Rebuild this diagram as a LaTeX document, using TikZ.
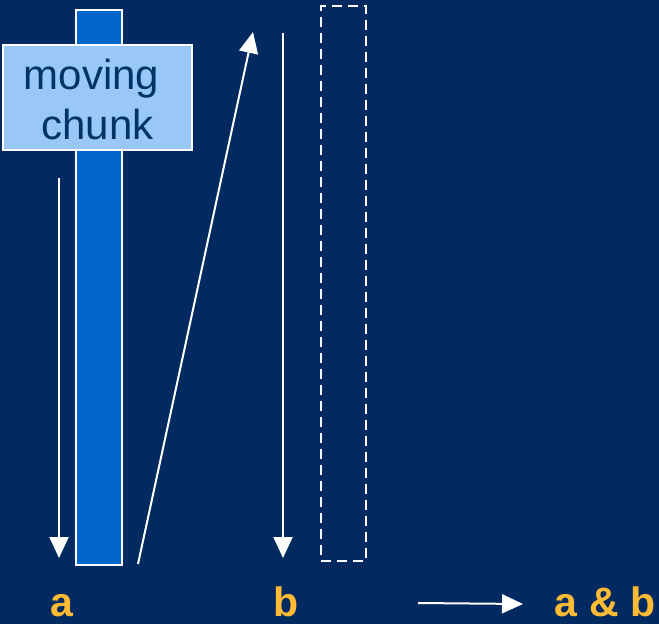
\documentclass[tikz,border=0pt]{standalone}
\usepackage{fontspec}
\setmainfont{Liberation Sans}
\usetikzlibrary{arrows.meta}
\definecolor{bgnavy}{HTML}{022A60}
\definecolor{barblue}{HTML}{0066CC}
\definecolor{lightblue}{HTML}{99C8F8}
\definecolor{darktext}{HTML}{003366}
\definecolor{labelorange}{HTML}{FFBB33}
\tikzset{
  whitearrow/.style={draw=white, line width=2pt, arrows={-Triangle[length=21pt, width=19pt]}},
  lbl/.style={text=labelorange, font=\fontsize{41}{48}\selectfont\bfseries, anchor=base, inner sep=0pt, text depth=0pt},
}
\begin{document}
\begin{tikzpicture}[x=1pt,y=-1pt]
\fill[bgnavy] (0,0) rectangle (659,624);
\useasboundingbox (0,0) rectangle (659,624);
% bar
\node[draw=white, line width=1.5pt, fill=barblue, minimum width=46pt, minimum height=555pt, inner sep=0pt] (bar) at (99,287.5) {};
% moving chunk box
\node[draw=white, line width=1.5pt, fill=lightblue, minimum width=189pt, minimum height=105pt, inner sep=0pt] (chunk) at (97.5,97.5) {};
\node[text=darktext, font=\fontsize{42}{50}\selectfont, align=center, inner sep=0pt, anchor=base] (chunktext) at (97.5,139) {moving\kern0.28em\\chunk};
% dashed rect
\node[draw=white, line width=2.2pt, dash pattern=on 10pt off 6pt, minimum width=45pt, minimum height=555pt, inner sep=0pt] (dash) at (343.5,283.5) {};
% arrows
\coordinate (a1s) at (59,178);
\coordinate (a1e) at (59,558);
\draw[whitearrow] (a1s) -- (a1e);
\coordinate (a2s) at (138,564);
\coordinate (a2e) at (253,32);
\draw[whitearrow] (a2s) -- (a2e);
\coordinate (a3s) at (283,33);
\coordinate (a3e) at (283,558);
\draw[whitearrow] (a3s) -- (a3e);
% labels
\node[lbl] (la) at (62,616) {a};
\node[lbl] (lb) at (286,616) {b};
\node[lbl] (lab) at (605,616) {a \& b};
\coordinate (a4s) at (418,603);
\coordinate (a4e) at (523,604);
\draw[whitearrow] (a4s) -- (a4e);
\end{tikzpicture}
\end{document}
